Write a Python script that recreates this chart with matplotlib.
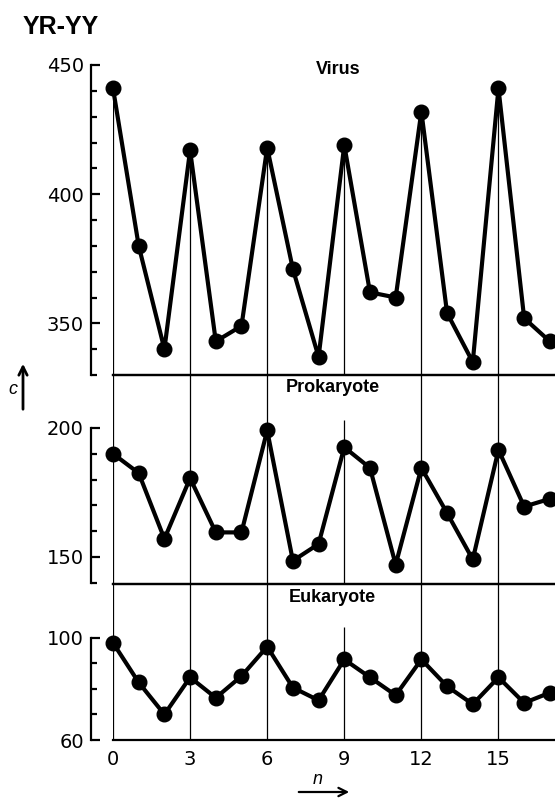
import matplotlib
matplotlib.use('Agg')
import matplotlib.pyplot as plt
from matplotlib.ticker import FixedLocator
import numpy as np

# periodicity of YR-YY dinucleotide counts along sequence position n
n = list(range(18))
virus = [441, 380, 340, 417, 343, 349, 418, 371, 337, 419,
         362, 360, 432, 354, 335, 441, 352, 343]
prokaryote = [190, 182.5, 157, 180.5, 159.5, 159.5, 199, 148.5, 155, 192.5,
              184.5, 147, 184.5, 167, 149, 191.5, 169.5, 172.5]
eukaryote = [98, 82.5, 70, 84.5, 76.5, 85, 96.5, 80.5, 75.5, 91.5,
             84.5, 77.5, 91.5, 81, 74, 84.5, 74.5, 78.5]

guide_n = [0, 3, 6, 9, 12, 15]
xtick_labels = ['0', '3', '6', '9', '12', '15']

W, H = 555, 798
fig = plt.figure(figsize=(W / 100, H / 100), dpi=100)


def px_axes(top, bottom, left=113, right=555):
    return fig.add_axes([left / W, 1 - bottom / H, (right - left) / W, (bottom - top) / H])


panels = [
    # name, data, top px, bottom px, ylim, spine bounds, major, minor, title pos
    ('Virus', virus, 65, 375, (330, 450), (330, 450), [350, 400, 450],
     range(330, 451, 10), (338, 70)),
    ('Prokaryote', prokaryote, 375, 584, (139.5, 220.5), (140, 200), [150, 200],
     range(140, 201, 10), (333, 388)),
    ('Eukaryote', eukaryote, 584, 740, (60, 121), (60, 100), [60, 100],
     range(60, 101, 10), (332, 597)),
]

axes = []
for name, vals, top, bottom, ylim, bounds, major, minor, tpos in panels:
    ax = px_axes(top, bottom)
    ax.set_xlim(0, 17.2)
    ax.set_ylim(*ylim)
    ax.patch.set_alpha(0)

    ax.spines['right'].set_visible(False)
    ax.spines['top'].set_visible(name != 'Virus')
    for s in ['top', 'bottom']:
        ax.spines[s].set_linewidth(1.6)
    ax.spines['left'].set_position(('outward', 16))
    ax.spines['left'].set_bounds(*bounds)
    ax.spines['left'].set_linewidth(1.6)

    ax.yaxis.set_major_locator(FixedLocator(major))
    ax.yaxis.set_minor_locator(FixedLocator(list(minor)))
    ax.tick_params(axis='y', which='major', direction='in', length=6.5, width=1.6,
                   labelsize=14, pad=5)
    ax.tick_params(axis='y', which='minor', direction='in', length=4, width=1.6)
    ax.tick_params(axis='x', length=0)
    ax.set_xticks([])

    # thin guide lines at every third position
    if name == 'Virus':
        ax.vlines(guide_n, ylim[0], [vals[i] for i in guide_n], color='black', lw=0.9)
    else:
        tops = [ylim[1]] * len(guide_n)
        tops[3] = 203 if name == 'Prokaryote' else 104
        ax.vlines(guide_n, ylim[0], tops, color='black', lw=0.9)

    ax.plot(n, vals, '-o', color='black', lw=3, markersize=10.5, clip_on=False, zorder=3)

    fig.text(tpos[0] / W, 1 - tpos[1] / H, name, ha='center', va='center',
             fontsize=13, fontweight='bold', family='Liberation Sans')
    axes.append(ax)

axes[-1].set_xticks(guide_n)
axes[-1].set_xticklabels(xtick_labels)
axes[-1].tick_params(axis='x', length=0, labelsize=14, pad=7)

fig.text(23 / W, 1 - 27 / H, 'YR-YY', ha='left', va='center', fontsize=18,
         fontweight='bold', family='Liberation Sans')

# axis symbols with arrows
fig.text(13 / W, 1 - 389 / H, 'c', ha='center', va='center', fontsize=13,
         style='italic', family='Liberation Sans')
fig.add_artist(matplotlib.patches.FancyArrowPatch(
    (23 / W, 1 - 412 / H), (23 / W, 1 - 361 / H), transform=fig.transFigure,
    arrowstyle='->,head_length=6,head_width=3', lw=2, color='black'))
fig.text(318 / W, 1 - 780 / H, 'n', ha='center', va='center', fontsize=13,
         style='italic', family='Liberation Sans')
fig.add_artist(matplotlib.patches.FancyArrowPatch(
    (296 / W, 1 - 792 / H), (352 / W, 1 - 792 / H), transform=fig.transFigure,
    arrowstyle='->,head_length=6,head_width=3', lw=1.6, color='black'))

fig.savefig('out.png', dpi=100)
